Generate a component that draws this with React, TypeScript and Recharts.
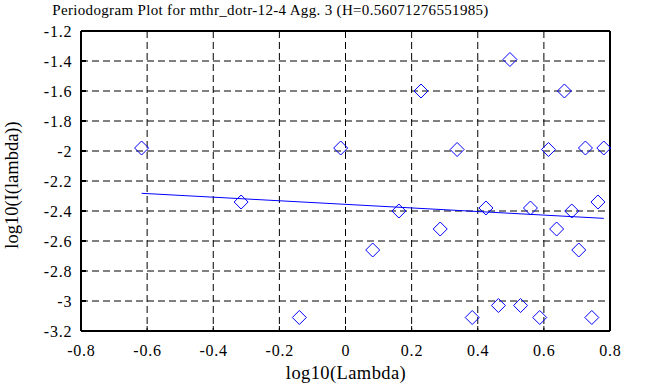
import React from "react";
import { ScatterChart, Scatter, XAxis, YAxis, CartesianGrid, Customized } from "recharts";

// log10 of the Fourier frequencies (x) and of the periodogram values (y)
const lambdaLog = [
  -0.6167, -0.3157, -0.1396, -0.0146, 0.0823, 0.1615, 0.2284, 0.2864, 0.3376, 0.3833, 0.4247, 0.4625, 0.4973,
  0.5295, 0.5594, 0.5875, 0.6138, 0.6386, 0.6621, 0.6844, 0.7055, 0.7257, 0.745, 0.7635, 0.7812,
];
const periodogramLog = [
  -1.98, -2.34, -3.11, -1.98, -2.66, -2.4, -1.6, -2.52, -1.99, -3.11, -2.38, -3.03, -1.39,
  -3.03, -2.38, -3.11, -1.99, -2.52, -1.6, -2.4, -2.66, -1.98, -3.11, -2.34, -1.98,
];

// least squares fit line end points
const fitX = [-0.6167, 0.7812];
const fitY = [-2.282, -2.449];

const xTicks = [-0.8, -0.6, -0.4, -0.2, 0, 0.2, 0.4, 0.6, 0.8];
const yTicks = [-3.2, -3, -2.8, -2.6, -2.4, -2.2, -2, -1.8, -1.6, -1.4, -1.2];

const points = lambdaLog.map((x, i) => ({ x, y: periodogramLog[i] }));
const fitLine = fitX.map((x, i) => ({ x, y: fitY[i] }));

const FONT = '"Liberation Serif", "Times New Roman", serif';
const BLUE = "#0000ff";

const Diamond = (props: any) => {
  const { cx, cy } = props;
  if (cx == null || cy == null) return <g />;
  const r = 7;
  return (
    <path
      d={`M${cx},${cy - r}L${cx + r},${cy}L${cx},${cy + r}L${cx - r},${cy}Z`}
      fill="none"
      stroke={BLUE}
      strokeWidth={1}
    />
  );
};

const tickText = { fontFamily: FONT, fontSize: 16, letterSpacing: 0.8 };

const XTick = (props: any) => {
  const { x, y, payload } = props;
  return (
    <text x={x + 0.4} y={y + 25} textAnchor="middle" style={tickText} fill="#000">
      {payload.value}
    </text>
  );
};

const YTick = (props: any) => {
  const { x, y, payload } = props;
  return (
    <text x={x - 8.7} y={y + 5.5} textAnchor="end" style={tickText} fill="#000">
      {payload.value}
    </text>
  );
};

const Titles = () => (
  <g style={{ fontFamily: FONT }} fill="#000">
    <text x={270.5} y={15} textAnchor="middle" fontSize={15} letterSpacing={0.33}>
      Periodogram Plot for mthr_dotr-12-4 Agg. 3 (H=0.56071276551985)
    </text>
    <text x={346} y={379} textAnchor="middle" fontSize={18.5} letterSpacing={0.4}>
      log10(Lambda)
    </text>
    <text x={18} y={185} textAnchor="middle" fontSize={18.5} transform="rotate(-90, 18, 185)">
      log10(I(lambda))
    </text>
  </g>
);

const blank = () => "";

const App = () => {
  return (
    <div style={{ position: "absolute", left: 0, top: 0, background: "#fff", fontFamily: FONT }}>
      <ScatterChart width={668} height={387} margin={{ top: 0, right: 0, bottom: 0, left: 0 }}>
        <CartesianGrid stroke="#000" strokeDasharray="7 4" />
        <XAxis
          type="number"
          dataKey="x"
          domain={[-0.8, 0.8]}
          ticks={xTicks}
          interval={0}
          height={56}
          tick={<XTick />}
          tickSize={-5}
          tickMargin={5}
          tickLine={{ stroke: "#000", strokeWidth: 1 }}
          axisLine={{ stroke: "#000", strokeWidth: 2 }}
        />
        <XAxis
          xAxisId="top"
          orientation="top"
          type="number"
          dataKey="x"
          domain={[-0.8, 0.8]}
          ticks={xTicks}
          interval={0}
          height={31}
          tickFormatter={blank}
          tickSize={-5}
          tickLine={{ stroke: "#000", strokeWidth: 1 }}
          axisLine={{ stroke: "#000", strokeWidth: 2 }}
        />
        <YAxis
          type="number"
          dataKey="y"
          domain={[-3.2, -1.2]}
          ticks={yTicks}
          interval={0}
          width={81}
          tick={<YTick />}
          tickSize={-5}
          tickMargin={5}
          tickLine={{ stroke: "#000", strokeWidth: 2 }}
          axisLine={{ stroke: "#000", strokeWidth: 2 }}
        />
        <YAxis
          yAxisId="right"
          orientation="right"
          type="number"
          dataKey="y"
          domain={[-3.2, -1.2]}
          ticks={yTicks}
          interval={0}
          width={58}
          tickFormatter={blank}
          tickSize={-5}
          tickLine={{ stroke: "#000", strokeWidth: 2 }}
          axisLine={{ stroke: "#000", strokeWidth: 2 }}
        />
        <Scatter data={points} shape={<Diamond />} isAnimationActive={false} />
        <Scatter
          data={fitLine}
          line={{ stroke: BLUE, strokeWidth: 1 }}
          shape={() => <g />}
          isAnimationActive={false}
        />
        <Customized component={<Titles />} />
      </ScatterChart>
    </div>
  );
};

export default App;
